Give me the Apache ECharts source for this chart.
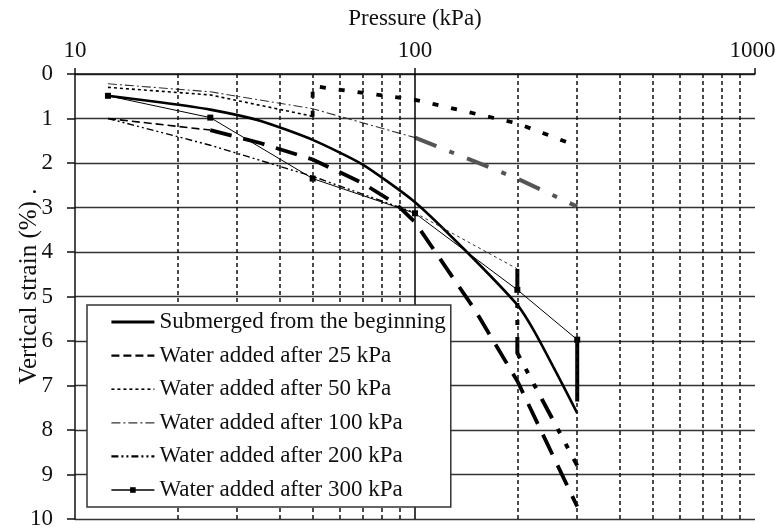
<!DOCTYPE html>
<html>
<head>
<meta charset="utf-8">
<script src="https://cdn.jsdelivr.net/npm/echarts@6/dist/echarts.min.js"></script>
<style>
html,body{margin:0;padding:0;background:#fff;}
#chart{width:776px;height:532px;}
</style>
</head>
<body>
<div id="chart"></div>
<script>
// ---- Data (pressure in kPa, vertical strain in %) ----
const xTickLabels = [10, 100, 1000];
const minorGridP = [20, 30, 40, 50, 60, 70, 80, 90, 200, 300, 400, 500, 600, 700, 800, 900];

const submergedP = [12.5, 18, 25, 35, 50, 70, 100, 140, 200, 225, 260, 300];
const submergedS = [0.49, 0.64, 0.8, 1.05, 1.48, 2.03, 2.88, 3.95, 5.19, 5.8, 6.7, 7.62];

const w25DryP = [12.5, 25];
const w25DryS = [1.0, 1.26];
const w25WetP = [25, 35, 50, 70, 88, 100, 150, 200, 300];
const w25WetS = [1.26, 1.55, 1.92, 2.45, 2.92, 3.33, 5.3, 6.9, 9.72];

const w50DryP = [12.5, 25, 50];
const w50DryS = [0.3, 0.47, 0.95];
const w50WetP = [50, 50, 100, 200, 300];
const w50WetS = [0.96, 0.27, 0.58, 1.11, 1.62];

const w100DryP = [12.5, 25, 50, 100];
const w100DryS = [0.22, 0.4, 0.78, 1.43];
const w100WetP = [100, 200, 300];
const w100WetS = [1.43, 2.35, 2.98];

const w200DryP = [12.5, 25, 50, 100];
const w200DryS = [1.0, 1.6, 2.3, 3.12];
const w200MidP = [100, 200];
const w200MidS = [3.12, 4.38];
const w200WetP = [200, 200, 300];
const w200WetS = [4.38, 6.27, 8.8];

const w300DryP = [12.5, 25, 50, 100, 200, 300];
const w300DryS = [0.49, 0.98, 2.35, 3.13, 4.85, 5.97];
const w300WetP = [300, 300];
const w300WetS = [5.97, 7.36];

const names = [
  'Submerged from the beginning',
  'Water added after 25 kPa',
  'Water added after 50 kPa',
  'Water added after 100 kPa',
  'Water added after 200 kPa',
  'Water added after 300 kPa'
];

function pairs(px, sy) { return px.map((p, i) => [p, sy[i]]); }

const FONT = 'Liberation Serif, Times New Roman, serif';
const FS = 23;

function lineSeries(name, px, sy, style, extra) {
  const s = Object.assign({
    type: 'line',
    data: pairs(px, sy),
    symbol: 'none',
    z: 3,
    lineStyle: style,
    itemStyle: { color: 'rgba(0,0,0,0)', borderWidth: 0 },
    emphasis: { disabled: true },
    animation: false
  }, extra || {});
  if (name) s.name = name;
  return s;
}

const minorLines = minorGridP.map(p => ({ xAxis: p }));
minorLines.push({ xAxis: 100, lineStyle: { type: 'solid', width: 1.5, color: '#000' } });

const series = [
  {
    type: 'line',
    data: [],
    symbol: 'none',
    z: 1,
    silent: true,
    animation: false,
    markLine: {
      silent: true,
      symbol: ['none', 'none'],
      label: { show: false },
      animation: false,
      lineStyle: { type: [4, 3], width: 1.5, color: '#111' },
      emphasis: { disabled: true },
      data: minorLines
    }
  },
  lineSeries(names[0], submergedP, submergedS, { color: '#000', width: 2.6, type: 'solid' },
    { smooth: 0.2 }),
  lineSeries(names[1], w25DryP, w25DryS, { color: '#000', width: 1.6, type: [8, 4] }),
  lineSeries(null, w25WetP, w25WetS, { color: '#000', width: 3.8, type: [22, 12] }),
  lineSeries(names[2], w50DryP, w50DryS, { color: '#000', width: 1.6, type: [3, 3] }),
  lineSeries(null, w50WetP, w50WetS, { color: '#000', width: 3.8, type: [6, 13] }),
  lineSeries(names[3], w100DryP, w100DryS, { color: '#333', width: 1.1, type: [9, 3, 2, 3] }),
  lineSeries(null, w100WetP, w100WetS, { color: '#555', width: 4, type: [23, 14, 5, 14] }),
  lineSeries(names[4], w200DryP, w200DryS, { color: '#000', width: 1.4, type: [7, 3, 2, 3, 2, 3] }),
  lineSeries(null, w200MidP, w200MidS, { color: '#333', width: 1, type: [3, 3] }),
  lineSeries(null, w200WetP, w200WetS, { color: '#000', width: 4, type: [22, 12, 5, 12, 5, 12] }),
  lineSeries(names[5], w300DryP, w300DryS, { color: '#000', width: 1, type: 'solid' },
    { symbol: 'rect', symbolSize: 6, showSymbol: true, itemStyle: { color: '#000' } }),
  lineSeries(null, w300WetP, w300WetS, { color: '#000', width: 4, type: 'solid' })
];

const legendWidths = [2.8, 2.2, 1.6, 1.3, 2.2, 1.3];
const legendData = names.map((n, i) => ({ name: n, lineStyle: { width: legendWidths[i] } }));

const chart = echarts.init(document.getElementById('chart'), null, { renderer: 'canvas' });
chart.setOption({
  animation: false,
  backgroundColor: '#fff',
  textStyle: { fontFamily: FONT },
  grid: { left: 75, right: 21, top: 74, bottom: 13, containLabel: false, outerBoundsMode: 'none' },
  xAxis: {
    type: 'log',
    logBase: 10,
    min: 10,
    max: 1000,
    position: 'top',
    name: 'Pressure (kPa)',
    nameLocation: 'middle',
    nameGap: 44,
    nameMoveOverlap: false,
    nameTextStyle: { fontFamily: FONT, fontSize: FS, color: '#111' },
    axisLine: { show: true, lineStyle: { color: '#111', width: 1.5 } },
    axisTick: { show: true, inside: false, length: 6, lineStyle: { color: '#111', width: 1.5 } },
    axisLabel: {
      fontFamily: FONT, fontSize: FS, color: '#111', margin: 12,
      formatter: v => {
        const r = Math.round(v);
        if (xTickLabels.indexOf(r) < 0) return '';
        return r === 1000 ? '{m|' + r + '}' : String(r);
      },
      rich: { m: { fontFamily: FONT, fontSize: FS, color: '#111', padding: [0, 5, 0, 0] } }
    },
    splitLine: { show: false },
    minorTick: { show: false }
  },
  yAxis: {
    type: 'value',
    inverse: true,
    min: 0,
    max: 10,
    interval: 1,
    name: 'Vertical strain (%) .',
    nameLocation: 'middle',
    nameGap: 33,
    nameMoveOverlap: false,
    nameTextStyle: { fontFamily: FONT, fontSize: 25, color: '#111', padding: [0, 0, 0, 20] },
    axisLine: { show: true, lineStyle: { color: '#111', width: 1.5 } },
    axisTick: { show: true, inside: false, length: 8, lineStyle: { color: '#111', width: 1.5 } },
    axisLabel: { fontFamily: FONT, fontSize: FS, color: '#111', margin: 22 },
    splitLine: { show: true, lineStyle: { color: '#333', width: 1.4, type: 'solid' } }
  },
  legend: {
    data: legendData,
    orient: 'vertical',
    left: 87,
    top: 305,
    padding: [5, 5, 5, 23],
    itemWidth: 43,
    itemHeight: 7,
    itemGap: 9.6,
    backgroundColor: '#fff',
    borderColor: '#333',
    borderWidth: 1.5,
    borderRadius: 0,
    selectedMode: false,
    z: 10,
    textStyle: { fontFamily: FONT, fontSize: FS, color: '#111', lineHeight: 24 }
  },
  series: series
});
</script>
</body>
</html>
